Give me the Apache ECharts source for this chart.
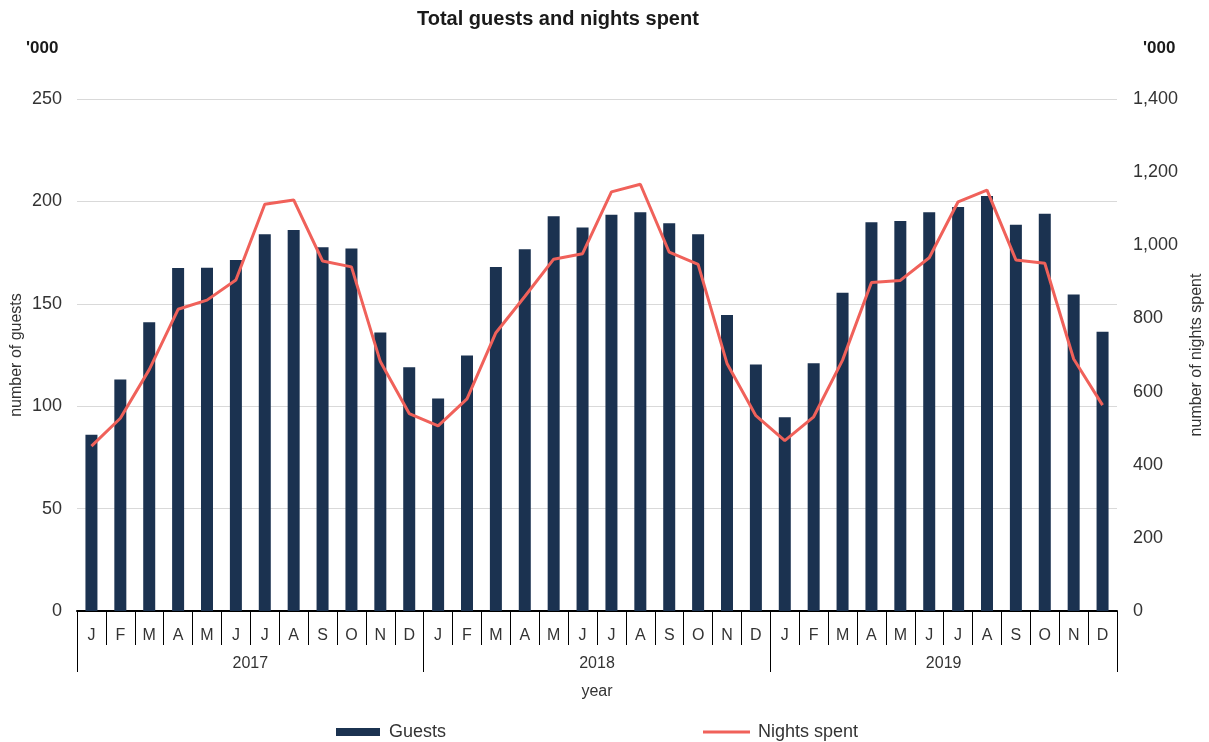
<!DOCTYPE html>
<html lang="en">
<head>
    <meta charset="UTF-8">
    <title>Total guests and nights spent</title>
    <style>
        html, body { margin: 0; padding: 0; background: #fff; }
        #container { width: 1209px; height: 742px; }
    </style>
</head>
<body>
<div id="container"></div>
<script type="text/javascript" src="https://cdn.jsdelivr.net/npm/echarts@6/dist/echarts.min.js"></script>
<script type="text/javascript">
    // data ('000)
    var years = ['2017', '2018', '2019'];
    var months = ['J', 'F', 'M', 'A', 'M', 'J', 'J', 'A', 'S', 'O', 'N', 'D'];
    var guests2017 = [86, 113, 141, 167.5, 167.6, 171.4, 184, 186, 177.6, 177, 136, 119];
    var guests2018 = [103.7, 124.8, 168, 176.6, 192.7, 187.3, 193.5, 194.7, 189.3, 184, 144.5, 120.4];
    var guests2019 = [94.6, 121, 155.4, 189.8, 190.4, 194.7, 197.3, 202.6, 188.6, 194, 154.6, 136.4];
    var nights2017 = [451, 527, 660, 825, 850, 905, 1112, 1124, 957, 941, 682, 540];
    var nights2018 = [506, 580, 761, 860, 962, 977, 1146, 1167, 981, 948, 677, 534];
    var nights2019 = [466, 531, 686, 898, 904, 966, 1119, 1151, 960, 951, 689, 563];

    var categories = [];
    years.forEach(function (y) {
        months.forEach(function (m, i) {
            categories.push(y + '-' + i + '-' + m);
        });
    });
    var guests = guests2017.concat(guests2018, guests2019);
    var nights = nights2017.concat(nights2018, nights2019);

    var font = 'Liberation Sans, Arial, sans-serif';
    var txt = '#333333';
    var barColor = '#1b3250';
    var lineColor = '#f0615a';

    var dom = document.getElementById('container');
    var myChart = echarts.init(dom, null, { renderer: 'canvas' });

    var option = {
        animation: false,
        textStyle: { fontFamily: font },
        title: [
            {
                text: 'Total guests and nights spent',
                left: 417, top: 9, padding: 0,
                textStyle: { fontSize: 20, fontWeight: 'bold', color: '#1a1a1a', fontFamily: font }
            },
            {
                text: "'000",
                left: 26, top: 40, padding: 0,
                textStyle: { fontSize: 17, fontWeight: 'bold', color: '#1a1a1a', fontFamily: font }
            },
            {
                text: "'000",
                left: 1143, top: 40, padding: 0,
                textStyle: { fontSize: 17, fontWeight: 'bold', color: '#1a1a1a', fontFamily: font }
            }
        ],
        legend: [
            {
                left: 336, top: 723, padding: 0,
                itemWidth: 44, itemHeight: 8, itemGap: 10,
                icon: 'rect',
                textStyle: { fontSize: 18, color: txt, fontFamily: font, padding: [0, 0, 0, 4] },
                data: ['Guests']
            },
            {
                left: 703, top: 723, padding: 0,
                itemWidth: 47, itemHeight: 3, itemGap: 10,
                icon: 'rect',
                textStyle: { fontSize: 18, color: txt, fontFamily: font, padding: [0, 0, 0, 3] },
                data: ['Nights spent']
            }
        ],
        grid: { left: 77, right: 92, top: 99, bottom: 131, outerBoundsMode: 'none' },
        xAxis: [
            {
                type: 'category',
                data: categories,
                position: 'bottom',
                axisLine: { lineStyle: { color: '#000', width: 2 } },
                axisTick: { show: true, interval: 0, length: 34, lineStyle: { color: '#000', width: 1 } },
                axisLabel: {
                    interval: 0, margin: 17, fontSize: 16, color: txt,
                    formatter: function (v) { return v.split('-')[2]; }
                }
            },
            {
                type: 'category',
                data: years,
                position: 'bottom',
                name: 'year',
                nameLocation: 'middle',
                nameGap: 73,
                nameMoveOverlap: false,
                nameTextStyle: { fontSize: 16, color: txt },
                axisLine: { show: false },
                axisTick: { show: true, interval: 0, length: 61, lineStyle: { color: '#000', width: 1 } },
                axisLabel: { interval: 0, margin: 45, fontSize: 16, color: txt }
            }
        ],
        yAxis: [
            {
                type: 'value',
                min: 0, max: 250, interval: 50,
                name: 'number of guests',
                nameLocation: 'middle',
                nameGap: 52,
                nameMoveOverlap: false,
                nameTextStyle: { fontSize: 16, color: txt },
                axisLine: { show: false },
                axisTick: { show: false },
                axisLabel: { margin: 15, fontSize: 18, color: txt },
                splitLine: { lineStyle: { color: '#d9d9d9', width: 1 } }
            },
            {
                type: 'value',
                min: 0, max: 1400, interval: 200,
                name: 'number of nights spent',
                nameLocation: 'middle',
                nameGap: 72,
                nameMoveOverlap: false,
                nameTextStyle: { fontSize: 16, color: txt },
                axisLine: { show: false },
                axisTick: { show: false },
                axisLabel: {
                    margin: 16, fontSize: 18, color: txt,
                    formatter: function (v) { return v.toLocaleString('en-US'); }
                },
                splitLine: { show: false }
            }
        ],
        series: [
            {
                name: 'Guests',
                type: 'bar',
                xAxisIndex: 0,
                yAxisIndex: 0,
                barWidth: 12,
                itemStyle: { color: barColor },
                data: guests
            },
            {
                name: 'Nights spent',
                type: 'line',
                xAxisIndex: 0,
                yAxisIndex: 1,
                symbol: 'none',
                lineStyle: { color: lineColor, width: 3 },
                itemStyle: { color: lineColor },
                data: nights
            }
        ]
    };

    myChart.setOption(option);
    window.addEventListener('resize', myChart.resize);
</script>
</body>
</html>
